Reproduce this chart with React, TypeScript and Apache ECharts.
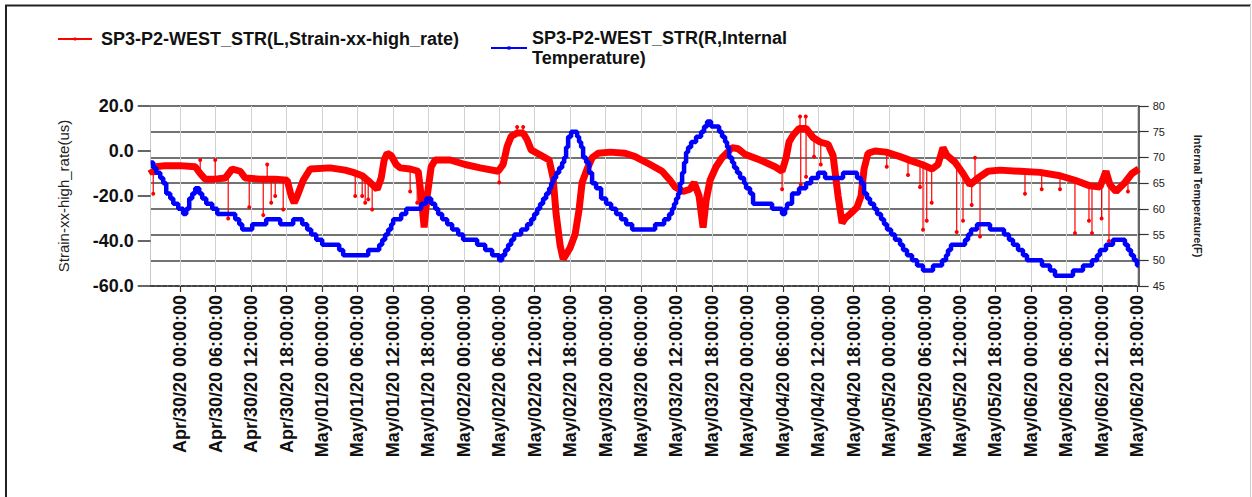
import React, { useEffect, useRef } from 'react';
import * as echarts from 'echarts';

const RED_NAME = 'SP3-P2-WEST_STR(L,Strain-xx-high_rate)';
const BLUE_NAME = 'SP3-P2-WEST_STR(R,Internal Temperature)';
const BLUE_LEGEND_TEXT = 'SP3-P2-WEST_STR(R,Internal\nTemperature)';
const LEFT_AXIS_NAME = 'Strain-xx-high_rate(us)';
const RIGHT_AXIS_NAME = 'Internal Temperature(F)';

// time is expressed in hours after Apr/30/20 00:00:00
const timeRange = [-5, 162.25];
const tickHours = [0, 6, 12, 18, 24, 30, 36, 42, 48, 54, 60, 66, 72, 78, 84, 90, 96, 102, 108, 114, 120, 126, 132, 138, 144, 150, 156, 162];
const tickLabels = [
  'Apr/30/20 00:00:00', 'Apr/30/20 06:00:00', 'Apr/30/20 12:00:00', 'Apr/30/20 18:00:00',
  'May/01/20 00:00:00', 'May/01/20 06:00:00', 'May/01/20 12:00:00', 'May/01/20 18:00:00',
  'May/02/20 00:00:00', 'May/02/20 06:00:00', 'May/02/20 12:00:00', 'May/02/20 18:00:00',
  'May/03/20 00:00:00', 'May/03/20 06:00:00', 'May/03/20 12:00:00', 'May/03/20 18:00:00',
  'May/04/20 00:00:00', 'May/04/20 06:00:00', 'May/04/20 12:00:00', 'May/04/20 18:00:00',
  'May/05/20 00:00:00', 'May/05/20 06:00:00', 'May/05/20 12:00:00', 'May/05/20 18:00:00',
  'May/06/20 00:00:00', 'May/06/20 06:00:00', 'May/06/20 12:00:00', 'May/06/20 18:00:00',
];

// strain (left axis): [hour, value] along the main trace
const strainBand: [number, number][] = [
  [-5.0, -8], [-4.57, -10], [-4.06, -7], [-2.54, -6.5], [0, -6.5], [2.54, -7], [3.38, -10], [4.23, -12.5],
  [5.92, -12.5], [7.62, -12], [8.8, -8], [10.15, -9], [11.0, -12], [13.54, -12.5], [16.08, -12.5], [18.11, -13],
  [18.79, -20], [19.29, -23], [19.8, -20], [20.82, -13], [22.0, -8], [25.38, -7.5], [27.92, -8.5], [29.28, -9.5],
  [30.8, -11], [32.15, -14], [33.34, -17], [34.02, -12], [34.52, -4], [35.03, -1], [35.71, -2], [36.55, -6],
  [37.23, -7.5], [38.92, -8], [40.28, -9], [40.79, -20], [41.29, -34], [41.8, -20], [42.48, -7], [43.15, -4],
  [45.69, -4], [48.23, -6], [50.77, -7.5], [53.82, -9], [54.66, -6], [55.34, 2], [56.02, 6.5], [57.03, 8],
  [58.05, 8], [58.72, 5], [59.4, 0.5], [60.42, -1], [61.43, -2.5], [62.45, -4], [63.12, -12], [63.63, -28],
  [64.31, -42], [64.82, -48], [65.32, -46], [66.0, -43], [66.85, -37], [67.52, -26], [68.03, -14], [68.88, -8],
  [69.72, -3], [70.74, -1], [72.77, -0.5], [75.31, -1], [77.0, -2.5], [79.54, -6], [81.57, -9], [82.92, -13],
  [83.77, -16], [85.12, -18], [86.31, -17], [86.99, -14], [87.83, -20], [88.51, -34], [89.02, -22], [89.69, -13],
  [90.71, -7], [91.72, -3], [93.42, 1.5], [94.43, 1], [95.62, -1.5], [98.15, -4], [100.69, -7], [101.88, -9],
  [102.56, -3], [103.06, 4], [103.74, 7], [104.75, 10], [105.94, 10], [107.12, 6], [108.31, 4], [109.66, 3],
  [110.51, -2], [111.36, -20], [112.03, -32], [112.54, -30], [113.39, -28], [114.57, -25], [115.25, -20], [115.76, -8],
  [116.43, -1], [117.62, 0], [119.48, -0.5], [121.85, -2.5], [123.88, -4.5], [125.57, -6], [127.26, -8], [128.28, -6],
  [129.12, 1.5], [129.8, -2], [131.16, -5], [132.51, -10], [133.69, -15], [135.05, -12], [136.74, -9], [138.77, -8.5],
  [142.16, -9], [145.54, -9.5], [148.93, -11], [151.46, -13], [154.0, -15.5], [155.69, -16], [156.71, -9], [157.39, -15],
  [158.4, -18], [159.92, -14], [161.11, -10], [162.25, -8],
];

// isolated strain readings: [hour, trace value, reading]
const strainSpikes: [number, number, number][] = [
  [-4.57, -10, -19], [3.38, -10, -4], [5.92, -12.5, -4], [8.12, -12, -30], [11.68, -12, -25], [14.05, -12.5, -28.5],
  [14.72, -12.5, -6], [15.4, -12.5, -23], [16.08, -12.5, -20], [17.43, -12.5, -26], [29.62, -10, -20], [30.8, -11, -20],
  [31.31, -12, -23], [31.82, -13, -21.5], [32.49, -14, -26], [38.92, -8, -18], [40.11, -9, -23], [53.99, -9, -14],
  [57.03, 8, 10.7], [58.05, 8, 10.7], [101.88, -9, -17], [104.92, 10, 15.3], [105.04, 10, -15], [105.89, 10, 15.3],
  [105.94, 10, -11.4], [107.29, 6, -2.5], [108.43, 4, -6], [119.6, -0.5, -7], [123.2, -3.5, -10.7], [125.23, -5, -16],
  [125.74, -6, -35], [126.37, -6.5, -31], [127.21, -8, -23], [131.44, -5, -36], [132.51, -10, -31], [133.98, -15, -24],
  [134.54, -12, -3], [135.39, -12, -38], [143.0, -9, -19], [145.83, -9.5, -17], [148.93, -11, -17], [151.46, -13, -36.5],
  [153.83, -15, -31], [154.34, -15.5, -36.5], [155.97, -16, -30], [157.22, -12, -40], [160.43, -13, -18],
];

// internal temperature (right axis): [hour, value] at each change of reading
const temperature: [number, number][] = [
  [-5.0, 69], [-4.57, 68], [-4.06, 67], [-3.38, 66], [-2.88, 65], [-2.37, 63], [-1.69, 62], [-1.18, 61], [-0.34, 60],
  [0.51, 59], [1.02, 60], [1.52, 62], [2.03, 63], [2.54, 64], [3.22, 63], [3.72, 62], [4.4, 61], [5.42, 60], [6.26, 59],
  [9.31, 58], [9.98, 57], [10.49, 56], [12.18, 57], [14.55, 58], [16.92, 57], [19.12, 58], [20.65, 57], [21.49, 56],
  [22.17, 55], [23.02, 54], [24.03, 53], [26.91, 52], [27.58, 51], [31.82, 52], [33.68, 53], [34.19, 54], [34.69, 55],
  [35.2, 56], [35.71, 57], [36.05, 58], [37.4, 59], [38.25, 60], [40.79, 61], [41.63, 62], [42.48, 61], [43.15, 60],
  [43.66, 59], [44.34, 58], [45.19, 57], [46.03, 56], [47.05, 55], [47.89, 54], [50.26, 53], [51.62, 52], [52.8, 51],
  [53.99, 50], [54.49, 51], [55.0, 52], [55.51, 53], [56.02, 54], [56.52, 55], [57.71, 56], [58.72, 57], [59.4, 58],
  [59.91, 59], [60.42, 60], [60.92, 61], [61.43, 62], [61.94, 63], [62.45, 64], [62.79, 65], [63.13, 66], [63.63, 67],
  [64.14, 68], [64.65, 69], [64.99, 70], [65.32, 72], [65.66, 74], [66.17, 75], [67.19, 74], [67.52, 73], [67.86, 72],
  [68.2, 70], [68.71, 69], [69.22, 67], [69.72, 65], [70.4, 64], [71.25, 62], [72.09, 61], [72.94, 60], [73.79, 59],
  [74.63, 58], [75.48, 57], [76.5, 56], [80.39, 57], [81.91, 58], [82.76, 59], [83.26, 60], [83.6, 61], [83.94, 62],
  [84.28, 63], [84.62, 65], [84.96, 67], [85.29, 69], [85.63, 71], [85.97, 72], [86.48, 73], [87.32, 74], [88.17, 75],
  [88.68, 76], [89.19, 77], [89.86, 76], [91.22, 75], [91.72, 74], [92.23, 73], [92.57, 72], [92.91, 70], [93.42, 69],
  [93.76, 68], [94.26, 67], [94.77, 66], [95.45, 65], [95.79, 64], [96.46, 63], [96.97, 61], [100.19, 60], [101.88, 59],
  [102.39, 60], [102.72, 61], [103.57, 63], [104.75, 64], [105.94, 65], [106.79, 66], [107.97, 67], [109.16, 66],
  [112.2, 67], [114.57, 66], [115.25, 65], [115.76, 63], [116.26, 62], [116.77, 61], [117.45, 60], [117.96, 59],
  [118.63, 58], [119.14, 57], [119.65, 56], [120.33, 55], [121.0, 54], [121.85, 53], [122.36, 52], [123.03, 51],
  [123.88, 50], [124.73, 49], [125.74, 48], [127.43, 49], [128.96, 50], [129.63, 51], [129.97, 52], [130.48, 53],
  [132.85, 54], [133.36, 55], [133.87, 56], [134.88, 57], [137.08, 56], [139.45, 55], [140.29, 54], [140.97, 53],
  [141.82, 52], [142.66, 51], [143.34, 50], [145.88, 49], [147.23, 48], [148.08, 47], [151.12, 48], [152.82, 49],
  [154.34, 50], [155.19, 51], [155.69, 52], [156.71, 53], [157.89, 54], [159.92, 53], [160.43, 52], [160.94, 51],
  [161.45, 50], [161.96, 49], [162.25, 49],
];

const strainAxis = { min: -60, max: 20, interval: 20 };
const tempAxis = { min: 45, max: 80, interval: 5 };

const FONT = '"Liberation Sans", Arial, Helvetica, sans-serif';

export default function App() {
  const ref = useRef<HTMLDivElement>(null);

  useEffect(() => {
    if (!ref.current) return;
    const chart = echarts.init(ref.current, undefined, { renderer: 'svg' });

    const spikeData: any[] = [];
    strainSpikes.forEach(([h, from, to]) => {
      spikeData.push({ value: [h, from], symbol: 'none' });
      spikeData.push({ value: [h, to], symbol: 'circle', symbolSize: 4 });
      spikeData.push({ value: [h, null], symbol: 'none' });
    });

    const option: any = {
      animation: false,
      backgroundColor: '#ffffff',
      textStyle: { fontFamily: FONT },
      grid: { left: 150.7, right: 113.3, top: 106, bottom: 211, outerBoundsMode: 'none', containLabel: false },
      legend: [
        {
          data: [RED_NAME],
          left: 57,
          top: 30,
          padding: 0,
          itemWidth: 34,
          itemHeight: 4,
          selectedMode: false,
          lineStyle: { width: 2 },
          textStyle: { fontSize: 18, fontWeight: 'bold', color: '#111', fontFamily: FONT, padding: [0, 0, 0, 4] },
        },
        {
          data: [BLUE_NAME],
          left: 490,
          top: 28,
          padding: 0,
          itemWidth: 36,
          itemHeight: 4,
          selectedMode: false,
          lineStyle: { width: 2 },
          formatter: () => BLUE_LEGEND_TEXT,
          textStyle: { fontSize: 18, fontWeight: 'bold', color: '#111', fontFamily: FONT, lineHeight: 20 },
        },
      ],
      xAxis: {
        type: 'value',
        min: timeRange[0],
        max: timeRange[1],
        axisLine: { show: true, onZero: false, lineStyle: { color: '#333', width: 1.5, type: [4, 2] } },
        axisTick: { show: true, customValues: tickHours, length: 6, lineStyle: { color: '#333', width: 1.2 } },
        axisLabel: {
          customValues: tickHours,
          rotate: 90,
          margin: 9,
          fontSize: 18,
          fontWeight: 'bold',
          color: '#111',
          fontFamily: FONT,
          formatter: (v: number) => {
            const i = tickHours.indexOf(Math.round(v));
            return i >= 0 ? tickLabels[i] : '';
          },
        },
        splitLine: { show: false },
      },
      yAxis: [
        {
          type: 'value',
          position: 'left',
          min: strainAxis.min,
          max: strainAxis.max,
          interval: strainAxis.interval,
          name: LEFT_AXIS_NAME,
          nameLocation: 'middle',
          nameRotate: 90,
          nameGap: 80,
          nameTextStyle: { fontSize: 15, color: '#222', fontFamily: FONT },
          axisLine: { show: true, onZero: false, lineStyle: { color: '#c8c8c8', width: 1 } },
          axisTick: { show: true, length: 13, lineStyle: { color: '#333', width: 1.5 } },
          axisLabel: {
            margin: 17,
            fontSize: 18,
            fontWeight: 'bold',
            color: '#111',
            fontFamily: FONT,
            formatter: (v: number) => v.toFixed(1),
          },
          splitLine: { show: false },
        },
        {
          type: 'value',
          position: 'right',
          min: tempAxis.min,
          max: tempAxis.max,
          interval: tempAxis.interval,
          name: RIGHT_AXIS_NAME,
          nameLocation: 'middle',
          nameRotate: -90,
          nameGap: 54,
          nameTextStyle: { fontSize: 11, fontWeight: 'bold', color: '#222', fontFamily: FONT },
          axisLine: { show: true, onZero: false, lineStyle: { color: '#333', width: 1.5 } },
          axisTick: { show: true, length: 10, lineStyle: { color: '#333', width: 1.2 } },
          axisLabel: { margin: 14, fontSize: 11, color: '#222', fontFamily: FONT },
          splitLine: { show: true, lineStyle: { color: '#444', width: 1.5 } },
        },
      ],
      graphic: [
        { type: 'line', silent: true, shape: { x1: 5, y1: 5.5, x2: 1251, y2: 5.5 }, style: { stroke: '#222', lineWidth: 2 } },
        { type: 'line', silent: true, shape: { x1: 6, y1: 5, x2: 6, y2: 497 }, style: { stroke: '#222', lineWidth: 2 } },
        { type: 'line', silent: true, shape: { x1: 1250.5, y1: 5, x2: 1250.5, y2: 497 }, style: { stroke: '#cccccc', lineWidth: 1 } },
      ],
      series: [
        {
          type: 'line',
          name: RED_NAME,
          yAxisIndex: 0,
          data: strainBand,
          symbol: 'circle',
          symbolSize: 3,
          showSymbol: false,
          lineStyle: { color: '#ff0000', width: 7 },
          itemStyle: { color: '#ff0000' },
          z: 2,
          markLine: {
            silent: true,
            z: 1,
            symbol: ['none', 'none'],
            label: { show: false },
            lineStyle: { color: '#d2d2d2', width: 1, type: 'solid' },
            data: tickHours.map((h) => ({ xAxis: h })),
          },
        },
        {
          type: 'line',
          name: RED_NAME,
          yAxisIndex: 0,
          data: spikeData,
          connectNulls: false,
          showSymbol: true,
          showAllSymbol: true,
          symbol: 'circle',
          symbolSize: 4,
          lineStyle: { color: '#ff0000', width: 1.2 },
          itemStyle: { color: '#ff0000' },
          z: 2,
        },
        {
          type: 'line',
          name: BLUE_NAME,
          yAxisIndex: 1,
          data: temperature,
          step: 'end',
          symbol: 'rect',
          symbolSize: 4,
          showSymbol: false,
          lineStyle: { color: '#0000ff', width: 4.5 },
          itemStyle: { color: '#0000ff' },
          z: 3,
        },
      ],
    };

    chart.setOption(option);
    return () => chart.dispose();
  }, []);

  return (
    <div
      ref={ref}
      style={{ position: 'absolute', left: 0, top: 0, width: 1252, height: 497, background: '#fff' }}
    />
  );
}
